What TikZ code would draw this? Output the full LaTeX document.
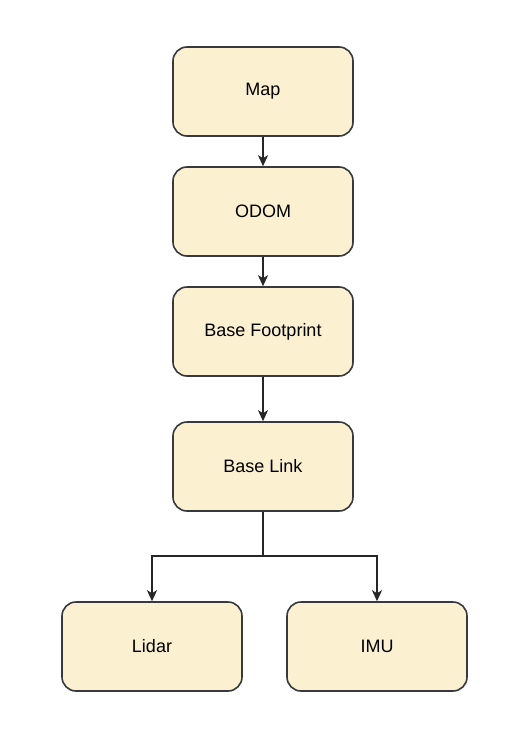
\documentclass[tikz,border=0pt]{standalone}
\usepackage{fontspec}
\setmainfont{Liberation Sans}
\usetikzlibrary{arrows.meta}
\definecolor{boxfill}{HTML}{FBF0CF}
\definecolor{boxline}{HTML}{36393D}
\tikzset{
  box/.style={draw=boxline, fill=boxfill, line width=1.6pt, rounded corners=14pt,
    minimum width=180pt, minimum height=89pt, inner sep=0pt,
    font=\fontsize{18}{22}\selectfont},
  conn/.style={draw=black!85, line width=1.6pt, -{Stealth[length=11pt,width=10pt,inset=3pt]}}
}
\begin{document}
\begin{tikzpicture}[x=1pt,y=-1pt]
\useasboundingbox (0,0) rectangle (526,744);
\node[box] (map) at (263,91.5) {Map};
\node[box] (odom) at (263,211.5) {ODOM};
\node[box] (fp) at (263,331.5) {Base Footprint};
\node[box] (link) at (263,466.5) {Base Link};
\node[box] (lidar) at (152,646.5) {Lidar};
\node[box] (imu) at (377,646.5) {IMU};
\coordinate (split) at (263,556);
\draw[conn] (map) -- (odom);
\draw[conn] (odom) -- (fp);
\draw[conn] (fp) -- (link);
\draw[conn] (link.south) -- (split) -| (lidar.north);
\draw[conn] (split) -| (imu.north);
\end{tikzpicture}
\end{document}
